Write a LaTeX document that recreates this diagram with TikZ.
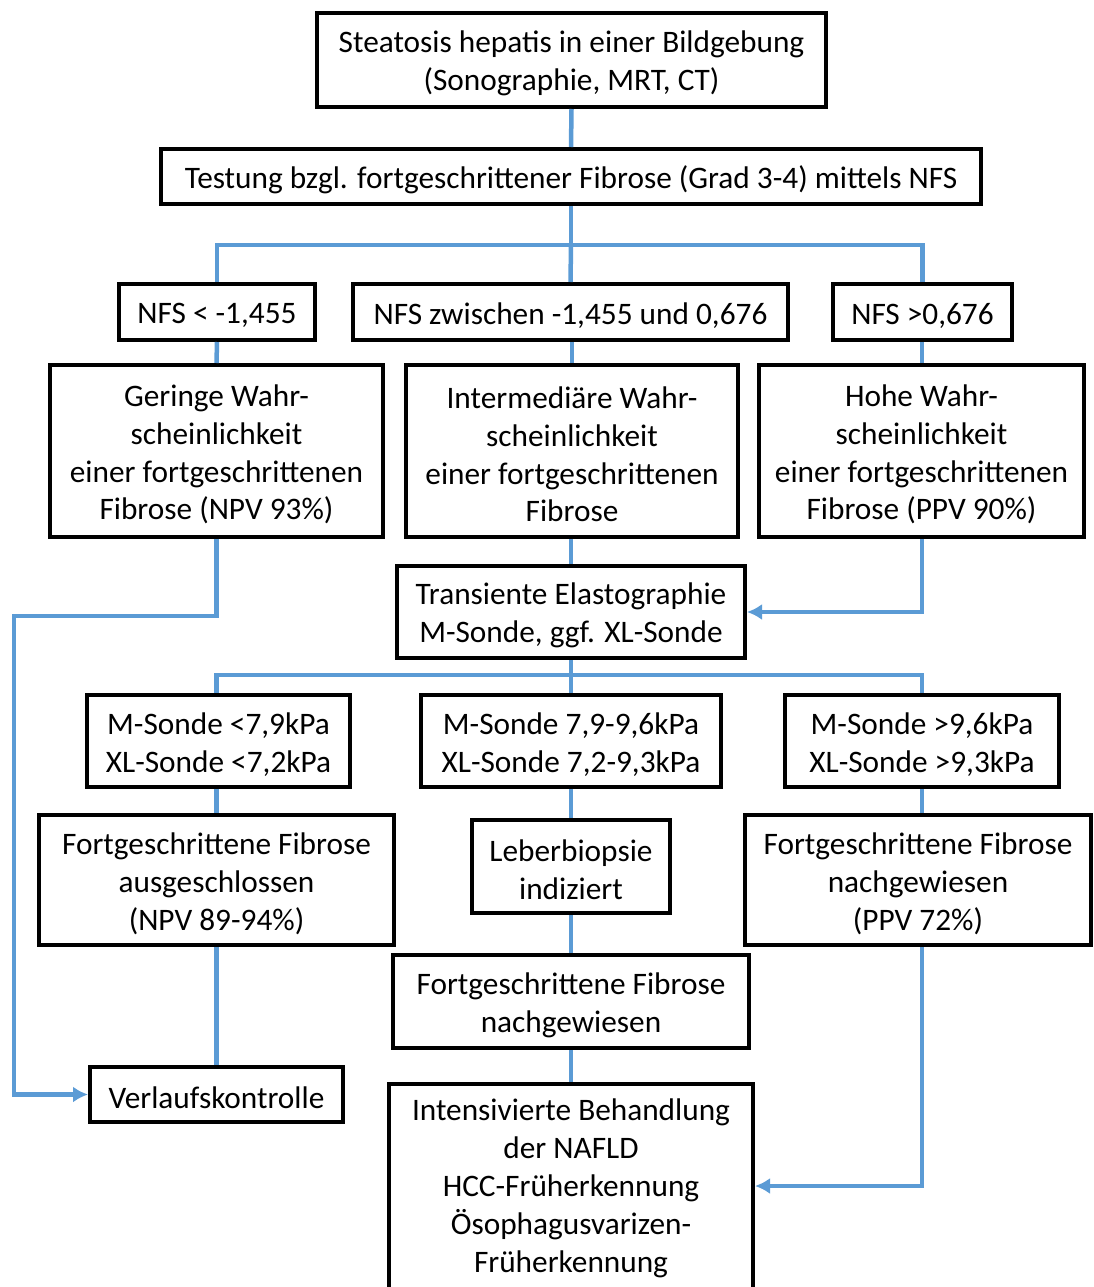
\documentclass[tikz,border=0pt]{standalone}
\usepackage{fontspec}
\setmainfont{Carlito}
\usetikzlibrary{arrows.meta}
\definecolor{conblue}{HTML}{5B9BD5}
\tikzset{
  box/.style={draw=black, line width=4pt, fill=white, inner sep=0pt},
  txt/.style={align=center, inner sep=0pt, font=\fontsize{31.3pt}{37.8pt}\selectfont},
  con/.style={draw=conblue, line width=4.5pt},
  arr/.style={con, -{Latex[length=15pt,width=16pt]}},
}
\newcommand{\bx}[6]{\node[box, minimum width=#4pt, minimum height=#5pt] (#1) at (#2,#3) {};
  \node[txt] (#1t) at (#2,#3+3.5) {#6};}
\begin{document}
\begin{tikzpicture}[x=1pt,y=-1pt]
\useasboundingbox (0,0) rectangle (1093,1287);
% nodes
\bx{top}{571.5}{60}{509}{94}{Steatosis hepatis in einer Bildgebung\\(Sonographie, MRT, CT)}
\bx{test}{571}{176.5}{820}{55}{Testung bzgl. fortgeschrittener Fibrose (Grad 3-4) mittels NFS}
\bx{nfsa}{217}{312}{196}{56}{NFS < -1,455}
\bx{nfsb}{570.5}{312}{435}{56}{NFS zwischen -1,455 und 0,676}
\bx{nfsc}{922.5}{312}{179}{56}{NFS >0,676}
\bx{wa}{216.5}{451}{333}{172}{Geringe Wahr-\\scheinlichkeit\\einer fortgeschrittenen\\Fibrose (NPV 93\%)}
\bx{wb}{572}{451}{332}{172}{Intermediäre Wahr-\\scheinlichkeit\\einer fortgeschrittenen\\Fibrose}
\bx{wc}{921.5}{451}{325}{172}{Hohe Wahr-\\scheinlichkeit\\einer fortgeschrittenen\\Fibrose (PPV 90\%)}
\bx{te}{571}{612}{348}{92}{Transiente Elastographie\\M-Sonde, ggf. XL-Sonde}
\bx{ma}{218.5}{741}{263}{92}{M-Sonde <7,9kPa\\XL-Sonde <7,2kPa}
\bx{mb}{571}{741}{300}{92}{M-Sonde 7,9-9,6kPa\\XL-Sonde 7,2-9,3kPa}
\bx{mc}{922}{741}{274}{92}{M-Sonde >9,6kPa\\XL-Sonde >9,3kPa}
\bx{ra}{216.5}{880}{355}{130}{Fortgeschrittene Fibrose\\ausgeschlossen\\(NPV 89-94\%)}
\bx{rb}{571}{866.5}{198}{93}{Leberbiopsie\\indiziert}
\bx{rc}{918}{880}{346}{130}{Fortgeschrittene Fibrose\\nachgewiesen\\(PPV 72\%)}
\bx{fn}{571}{1001.5}{356}{93}{Fortgeschrittene Fibrose\\nachgewiesen}
\bx{vk}{216.5}{1094.5}{253}{55}{Verlaufskontrolle}
\node[box, minimum width=364pt, minimum height=210pt, anchor=north] (ib) at (571,1082) {};
\node[txt, anchor=north] (ibt) at (571,1099)
  {Intensivierte Behandlung\\der NAFLD\\HCC-Früherkennung\\Ösophagusvarizen-\\Früherkennung};
% coordinates
\coordinate (s1) at (571,245);
\coordinate (s2) at (571,675);
\coordinate (l1) at (14,616);
\coordinate (r1) at (922,612);
\coordinate (r2) at (922,1186);
% connectors
\draw[con] (top.south) -- (test.north);
\draw[con] (test.south) -- (s1);
\draw[con] (nfsa.north) |- (s1) -| (nfsc.north);
\draw[con] (s1) -- (nfsb.north);
\draw[con] (nfsa.south) -- (wa.north);
\draw[con] (nfsb.south -| wb.north) -- (wb.north);
\draw[con] (nfsc.south -| r1) -- (wc.north -| r1);
\draw[arr] (wa.south) |- (l1) |- (vk.west);
\draw[con] (wb.south -| te.north) -- (te.north);
\draw[arr] (wc.south -| r1) -- (r1) -- (te.east);
\draw[con] (te.south) -- (s2);
\draw[con] (ma.north -| wa.south) |- (s2) -| (mc.north -| r1);
\draw[con] (s2) -- (mb.north);
\draw[con] (ma.south -| wa.south) -- (ra.north -| wa.south);
\draw[con] (mb.south) -- (rb.north);
\draw[con] (mc.south -| r1) -- (rc.north -| r1);
\draw[con] (ra.south -| wa.south) -- (vk.north -| wa.south);
\draw[con] (rb.south) -- (fn.north);
\draw[con] (fn.south) -- (ib.north);
\draw[arr] (rc.south -| r1) -- (r2) -- (ib.east |- r2);
\end{tikzpicture}
\end{document}
